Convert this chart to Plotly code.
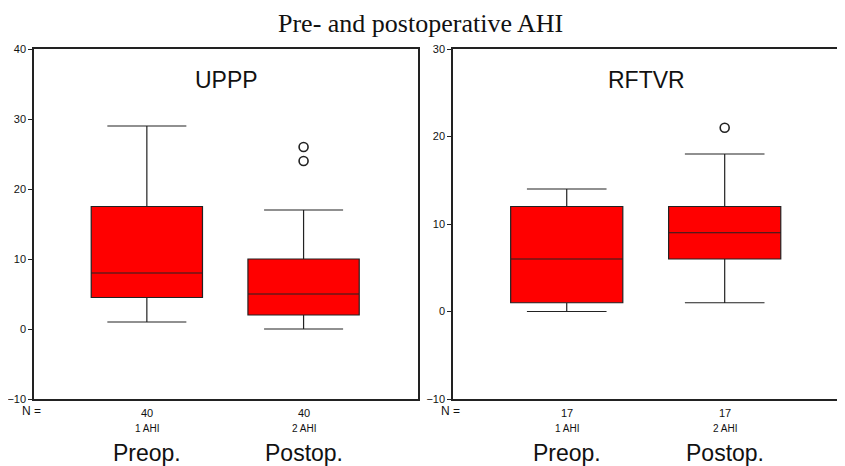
import plotly.graph_objects as go

# ---- data ----
groups = ["1 AHI", "2 AHI"]
group_labels = ["Preop.", "Postop."]
n_uppp = [40, 40]
n_rftvr = [17, 17]

uppp_low = [1, 0]
uppp_q1 = [4.5, 2]
uppp_median = [8, 5]
uppp_q3 = [17.5, 10]
uppp_high = [29, 17]
uppp_outlier_x = ["2 AHI", "2 AHI"]
uppp_outlier_y = [24, 26]

rftvr_low = [0, 1]
rftvr_q1 = [1, 6]
rftvr_median = [6, 9]
rftvr_q3 = [12, 12]
rftvr_high = [14, 18]
rftvr_outlier_x = ["2 AHI"]
rftvr_outlier_y = [21]

uppp_ticks = [-10, 0, 10, 20, 30, 40]
rftvr_ticks = [-10, 0, 10, 20, 30]

RED = "#FF0000"
LINE = "#222222"
FONT = "Liberation Sans, Arial, sans-serif"

# page body margin compensation
OFF = 8
W, H = 845 - OFF, 466 - OFF

def px(x):
    return min(1.0, (x - OFF) / W)

def py(y):
    return 1 - (y - OFF) / H

fig = go.Figure()

def add_panel(xa, ya, low, q1, med, q3, high, ox, oy):
    fig.add_trace(go.Box(
        x=groups, q1=q1, median=med, q3=q3, lowerfence=low, upperfence=high,
        xaxis=xa, yaxis=ya, fillcolor=RED, line=dict(color=LINE, width=1.2),
        whiskerwidth=0.71, width=0.71, boxpoints=False, showlegend=False,
        hoverinfo="skip"))
    fig.add_trace(go.Scatter(
        x=ox, y=oy, xaxis=xa, yaxis=ya, mode="markers", showlegend=False,
        marker=dict(symbol="circle-open", size=9, color=LINE, line=dict(width=1.6))))

add_panel("x", "y", uppp_low, uppp_q1, uppp_median, uppp_q3, uppp_high,
          uppp_outlier_x, uppp_outlier_y)
add_panel("x2", "y2", rftvr_low, rftvr_q1, rftvr_median, rftvr_q3, rftvr_high,
          rftvr_outlier_x, rftvr_outlier_y)

ydom = [py(399), py(49)]
common_x = dict(type="category", categoryorder="array", categoryarray=groups,
                range=[-0.72, 1.73], showticklabels=False, ticks="",
                showline=True, linecolor=LINE, linewidth=1.5, mirror=True,
                showgrid=False, zeroline=False, fixedrange=True, automargin=False)
common_y = dict(showline=True, linecolor=LINE, linewidth=1.5, mirror=True,
                ticks="outside", ticklen=4, tickcolor=LINE, showgrid=False,
                zeroline=False, automargin=False,
                tickfont=dict(family=FONT, size=11, color="#111"))

fig.update_layout(
    width=W, height=H,
    margin=dict(l=0, r=0, t=0, b=0, autoexpand=False),
    paper_bgcolor="white", plot_bgcolor="white",
    xaxis=dict(domain=[px(34), px(418)], anchor="y", **common_x),
    yaxis=dict(domain=ydom, anchor="x", range=[-10, 40], tickvals=uppp_ticks, **common_y),
    xaxis2=dict(domain=[px(453), px(840)], anchor="y2", **common_x),
    yaxis2=dict(domain=ydom, anchor="x2", range=[-10, 30], tickvals=rftvr_ticks, **common_y),
)

ann = []
ann.append(dict(text="Pre- and postoperative AHI", x=px(420), y=1.0,
                xref="paper", yref="paper", yanchor="top", borderpad=0, showarrow=False,
                font=dict(family="Liberation Serif, Times New Roman, serif", size=26, color="#111")))
for xa, title, ns in [("x", "UPPP", n_uppp), ("x2", "RFTVR", n_rftvr)]:
    ann.append(dict(text=title, x=0.5, y=py(80), xref=xa + " domain", yref="paper",
                    yanchor="middle", showarrow=False,
                    font=dict(family=FONT, size=23, color="#111")))
    ann.append(dict(text="N =", x=0, y=py(411), xref=xa + " domain", yref="paper",
                    xanchor="right", yanchor="middle", xshift=9, showarrow=False,
                    font=dict(family=FONT, size=12, color="#111")))
    for g, lab, n in zip(groups, group_labels, ns):
        ann.append(dict(text=str(n), x=g, y=py(413), xref=xa, yref="paper",
                        yanchor="middle", showarrow=False,
                        font=dict(family=FONT, size=11, color="#111")))
        ann.append(dict(text=g, x=g, y=py(428), xref=xa, yref="paper",
                        yanchor="middle", showarrow=False,
                        font=dict(family=FONT, size=10, color="#111")))
        ann.append(dict(text=lab, x=g, y=py(453), xref=xa, yref="paper",
                        yanchor="middle", showarrow=False,
                        font=dict(family=FONT, size=23, color="#111")))
fig.update_layout(annotations=ann)

fig.write_html("out.html")
